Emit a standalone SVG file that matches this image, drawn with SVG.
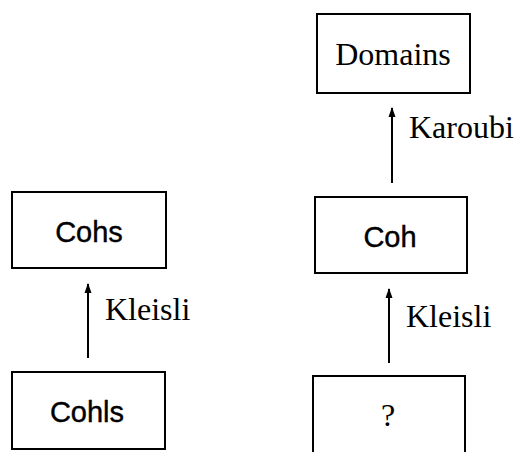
<svg xmlns="http://www.w3.org/2000/svg" width="519" height="452" viewBox="0 0 519 452">
<style>
.box{fill:none;stroke:#000;stroke-width:2}
.sans{font-family:"Liberation Sans",Arial,sans-serif;font-size:29px;text-anchor:middle;fill:#000;stroke:#000;stroke-width:0.4}
.serif{font-family:"Liberation Serif","Times New Roman",serif;font-size:32px;fill:#000}
.edge{stroke:#000;stroke-width:2;fill:none;marker-end:url(#ah)}
</style>
<defs>
<marker id="ah" markerWidth="10" markerHeight="8" refX="9" refY="4" orient="auto" markerUnits="userSpaceOnUse" viewBox="0 0 10 8">
<path d="M0,0.5 L10,4 L0,7.5 Z" fill="#000"/>
</marker>
</defs>
<rect width="519" height="452" fill="#fff"/>
<g id="domains">
<rect class="box" x="317" y="14" width="153" height="79"/>
<text class="serif" x="393" y="65" text-anchor="middle">Domains</text>
</g>
<g id="coh">
<rect class="box" x="315" y="197" width="152" height="76"/>
<text class="sans" x="390" y="247">Coh</text>
</g>
<g id="unknown">
<path class="box" d="M313,452 V376 H465 V452"/>
<text class="serif" x="388" y="426" text-anchor="middle">?</text>
</g>
<g id="cohs">
<rect class="box" x="12" y="192" width="154" height="76"/>
<text class="sans" x="89" y="242">Cohs</text>
</g>
<g id="cohls">
<rect class="box" x="12" y="372" width="153" height="77"/>
<text class="sans" x="87" y="422">Cohls</text>
</g>
<g id="connectors">
<line class="edge" x1="88" y1="358" x2="88" y2="284"/>
<text class="serif" x="105" y="320">Kleisli</text>
<line class="edge" x1="392" y1="183" x2="392" y2="108"/>
<text class="serif" x="409" y="138">Karoubi</text>
<line class="edge" x1="389" y1="363" x2="389" y2="289"/>
<text class="serif" x="406" y="327">Kleisli</text>
</g>
</svg>
